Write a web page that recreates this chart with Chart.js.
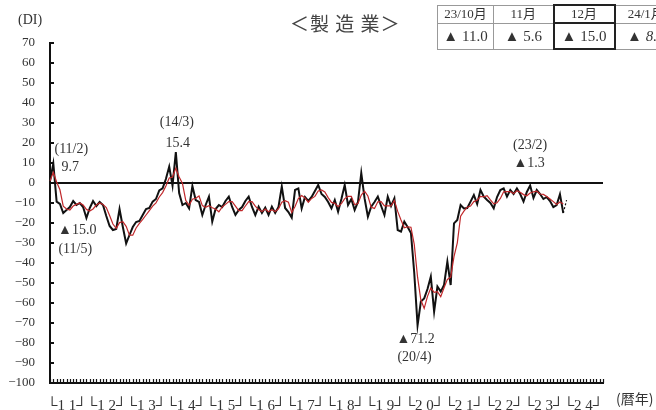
<!DOCTYPE html>
<html>
<head>
<meta charset="utf-8">
<script src="https://cdn.jsdelivr.net/npm/chart.js@4.4.1/dist/chart.umd.min.js"></script>
<style>
  body { margin: 0; background: #fff; overflow: hidden; }
  #wrap { position: relative; width: 656px; height: 410px; overflow: hidden; }
  .txt { position: absolute; color: #333; font-family: "Liberation Serif", "Noto Sans CJK JP", serif; white-space: nowrap; }
  #title { left: 290px; top: 9px; font-size: 19px; font-family: "Noto Sans CJK JP", sans-serif; color: #444; letter-spacing: 1px; }
  #di { left: 18px; top: 12px; font-size: 14px; }
  #unit { left: 616px; top: 388px; font-size: 14px; font-family: "Noto Sans CJK JP", sans-serif; color: #333; }
  table { position: absolute; left: 437px; top: 4px; width: 239px; table-layout: fixed; border-collapse: collapse; font-family: "Liberation Serif", "Noto Sans CJK JP", serif; color: #333; }
  td { border: 1px solid #999; text-align: center; padding: 0; overflow: hidden; white-space: nowrap; }
  tr.h td { height: 16px; font-size: 13px; line-height: 16px; }
  tr.v td { height: 24px; font-size: 15px; }
  td.now { border: 2px solid #222; }
</style>
</head>
<body>
<div id="wrap">
  <canvas id="chart" width="656" height="410"></canvas>
  <div class="txt" id="title">＜製 造 業＞</div>
  <div class="txt" id="di">(DI)</div>
  <div class="txt" id="unit">(暦年)</div>
  <table>
    <colgroup><col style="width:56px"><col style="width:60px"><col style="width:61px"><col style="width:62px"></colgroup>
    <tr class="h"><td>23/10月</td><td>11月</td><td class="now">12月</td><td>24/1月</td></tr>
    <tr class="v"><td>▲ 11.0</td><td>▲ 5.6</td><td class="now">▲ 15.0</td><td><i>▲ 8.6</i></td></tr>
  </table>
</div>
<script>
// years on the axis (2011..2024), monthly points
const years = ['11','12','13','14','15','16','17','18','19','20','21','22','23','24'];
const months = [];
years.forEach(function (y) {
    for (let m = 1; m <= 12; m++) months.push(y + '/' + m);
});

// monthly DI (black), 2011/1 .. 2023/12
const diMonthly = [
    1.0, 9.7, -9.3, -10.5, -15.0, -13.5, -12.0, -9.0, -11.0, -10.0, -12.0, -17.5,
    -12.5, -9.0, -11.5, -9.5, -11.0, -16.5, -21.5, -23.5, -23.0, -13.0, -22.0, -30.2,
    -26.0, -22.0, -19.5, -19.0, -16.0, -13.0, -12.5, -9.3, -8.0, -3.7, -2.7, 2.0,
    8.2, -1.3, 15.4, -5.0, -11.0, -10.0, -12.7, -1.5, -8.5, -9.5, -16.0, -11.0,
    -6.8, -19.3, -13.0, -11.0, -12.0, -9.0, -6.8, -12.0, -16.0, -13.5, -12.0, -9.0,
    -6.8, -12.0, -16.0, -11.8, -15.0, -12.3, -16.0, -11.8, -15.0, -12.0, -1.8, -12.5,
    -14.5, -17.3, -3.5, -2.7, -12.7, -7.0, -9.0, -7.0, -4.0, -1.0, -5.5, -7.0,
    -9.5, -12.7, -8.5, -14.3, -8.0, -1.0, -11.0, -8.0, -13.5, -9.5, 5.0, -7.7,
    -16.8, -11.8, -9.5, -6.8, -11.5, -16.0, -6.8, -11.5, -7.7, -23.5, -24.3, -19.3,
    -22.0, -25.0, -45.0, -71.2, -59.3, -57.7, -53.0, -46.8, -64.3, -51.8, -54.3, -51.0,
    -39.3, -51.0, -20.2, -18.5, -11.0, -12.7, -12.5, -9.3, -6.0, -10.5, -3.5, -6.8,
    -8.5, -10.0, -12.7, -7.0, -3.5, -2.7, -6.8, -3.5, -5.5, -2.7, -5.5, -9.3,
    -4.5, -1.3, -7.5, -3.5, -5.5, -8.0, -7.0, -9.0, -12.0, -11.0, -5.6, -15.0
];

// smoothed line (red)
const diSmooth = [
    1.0, 5.4, 0.5, -3.4, -11.6, -13.0, -13.5, -11.5, -10.7, -10.0, -11.0, -13.2,
    -14.0, -13.0, -11.0, -10.0, -10.7, -12.3, -16.3, -20.5, -22.7, -19.8, -19.3, -21.7,
    -26.1, -26.1, -22.5, -20.2, -18.2, -16.0, -13.8, -11.6, -9.9, -7.0, -4.8, -1.5,
    2.5, 3.0, 7.4, 3.0, -0.2, -8.7, -11.2, -8.1, -7.6, -6.5, -11.3, -12.2,
    -11.3, -12.4, -13.0, -14.4, -12.0, -10.7, -9.3, -9.3, -11.6, -13.8, -13.8, -11.5,
    -9.3, -9.3, -11.6, -13.3, -14.3, -13.0, -14.4, -13.4, -14.3, -12.9, -9.6, -8.8,
    -9.6, -14.8, -11.8, -7.8, -6.3, -7.5, -9.6, -7.7, -6.7, -4.0, -3.5, -4.5,
    -7.3, -9.7, -10.2, -11.8, -10.3, -7.8, -6.7, -6.7, -10.8, -10.3, -6.0, -4.1,
    -6.5, -12.1, -12.7, -9.4, -9.3, -11.4, -11.4, -11.4, -8.7, -14.2, -18.5, -22.4,
    -21.9, -22.1, -30.7, -47.1, -58.5, -62.7, -56.7, -52.5, -54.7, -54.3, -56.8, -52.4,
    -48.2, -47.1, -36.8, -29.9, -16.6, -14.1, -12.1, -11.5, -9.3, -8.6, -6.7, -6.9,
    -6.3, -8.4, -10.4, -9.9, -7.7, -4.4, -4.3, -4.3, -5.3, -3.9, -4.6, -5.8,
    -6.4, -5.0, -4.4, -4.1, -5.5, -5.7, -6.8, -8.0, -9.3, -10.7, -9.5, -10.5
];

// forecast (dotted): 2023/12 -> 2024/1
const forecastIdx = [155, 156];
const forecastVal = [-15.0, -8.6];

const yTicks = [70, 60, 50, 40, 30, 20, 10, 0, -10, -20, -30, -40, -50, -60, -70, -80, -90, -100];

// annotation texts attached to points (index, value, text)
const notes = [
    { i: 1, v: 9.7, t: '(11/2)', dx: 18, dy: -14 },
    { i: 1, v: 9.7, t: '9.7', dx: 17, dy: 4 },
    { i: 4, v: -15.0, t: '▲15.0', dx: 14, dy: 17 },
    { i: 4, v: -15.0, t: '(11/5)', dx: 12, dy: 36 },
    { i: 38, v: 15.4, t: '(14/3)', dx: 1, dy: -30 },
    { i: 38, v: 15.4, t: '15.4', dx: 2, dy: -9 },
    { i: 145, v: -1.3, t: '(23/2)', dx: 0, dy: -40 },
    { i: 145, v: -1.3, t: '▲1.3', dx: -1, dy: -22 },
    { i: 111, v: -71.2, t: '▲71.2', dx: -2, dy: 14 },
    { i: 111, v: -71.2, t: '(20/4)', dx: -3, dy: 32 }
];

const forecast = months.map(function () { return null; });
forecastIdx.forEach(function (idx, k) { forecast[idx] = forecastVal[k]; });

const serif = '"Liberation Serif", "DejaVu Serif", serif';

// small inward ticks on both axes + annotation texts
const extras = {
    id: 'extras',
    afterDraw: function (chart) {
        const ctx = chart.ctx;
        const xs = chart.scales.x, ys = chart.scales.y;
        const a = chart.chartArea;
        ctx.save();
        ctx.strokeStyle = '#111';
        ctx.lineWidth = 2;
        yTicks.forEach(function (v) {
            const py = Math.round(ys.getPixelForValue(v));
            ctx.beginPath();
            ctx.moveTo(a.left, py);
            ctx.lineTo(a.left + 4, py);
            ctx.stroke();
        });
        ctx.lineWidth = 1.2;
        for (let i = 0; i < months.length; i++) {
            const px = Math.round(xs.getPixelForValue(i)) + 0.5;
            ctx.beginPath();
            ctx.moveTo(px, a.bottom);
            ctx.lineTo(px, a.bottom - 4);
            ctx.stroke();
        }
        ctx.fillStyle = '#333';
        ctx.font = '14px ' + serif;
        ctx.textAlign = 'center';
        ctx.textBaseline = 'middle';
        notes.forEach(function (n) {
            ctx.fillText(n.t, xs.getPixelForValue(n.i) + n.dx, ys.getPixelForValue(n.v) + n.dy);
        });
        ctx.restore();
    }
};

new Chart(document.getElementById('chart'), {
    type: 'line',
    data: {
        labels: months,
        datasets: [{
            data: diSmooth,
            borderColor: '#c0282b',
            borderWidth: 1.2,
            pointRadius: 0,
            tension: 0
        }, {
            data: diMonthly,
            borderColor: '#111',
            borderWidth: 2,
            pointRadius: 0,
            tension: 0
        }, {
            data: forecast,
            borderColor: '#111',
            borderWidth: 1.2,
            borderDash: [2, 2],
            pointRadius: 0,
            spanGaps: false
        }]
    },
    options: {
        responsive: false,
        devicePixelRatio: 1,
        animation: false,
        layout: { padding: { left: 0, right: 53, top: 43, bottom: 0 } },
        plugins: { legend: { display: false }, tooltip: { enabled: false } },
        scales: {
            x: {
                type: 'category',
                offset: false,
                afterFit: function (s) { s.height = 27; },
                grid: { display: false },
                border: { display: true, color: '#111', width: 2 },
                ticks: {
                    autoSkip: false,
                    maxRotation: 0,
                    minRotation: 0,
                    padding: 6,
                    labelOffset: -3,
                    color: '#333',
                    font: { family: serif, size: 15 },
                    callback: function (val, idx) {
                        if (idx % 12 !== 6) return '';
                        const y = years[Math.floor(idx / 12)];
                        return '└' + y[0] + ' ' + y[1] + '┘';
                    }
                }
            },
            y: {
                min: -100,
                max: 70,
                afterFit: function (s) { s.width = 50; },
                afterBuildTicks: function (s) {
                    s.ticks = yTicks.map(function (v) { return { value: v }; });
                },
                grid: {
                    drawTicks: false,
                    color: function (c) { return c.tick && c.tick.value === 0 ? '#111' : 'rgba(0,0,0,0)'; },
                    lineWidth: function (c) { return c.tick && c.tick.value === 0 ? 2 : 0; }
                },
                border: { display: true, color: '#111', width: 2 },
                ticks: {
                    padding: 15,
                    color: '#333',
                    font: { family: serif, size: 13 },
                    callback: function (v) { return v < 0 ? '−' + Math.abs(v) : String(v); }
                }
            }
        }
    },
    plugins: [extras]
});
</script>
</body>
</html>
